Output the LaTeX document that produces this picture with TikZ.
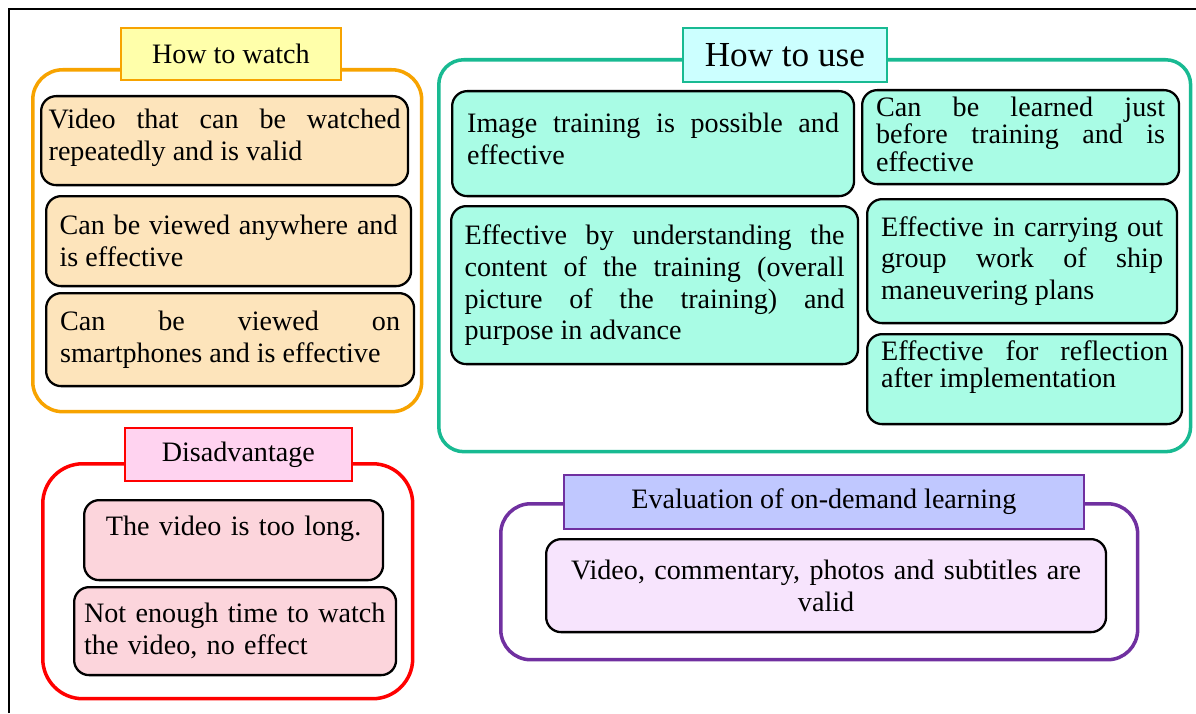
\documentclass[tikz,border=0pt]{standalone}
\usepackage{fontspec}
\setmainfont{Liberation Serif}
\usepackage{xcolor}

\definecolor{watchline}{RGB}{247,163,0}
\definecolor{watchhead}{RGB}{255,255,170}
\definecolor{watchfill}{RGB}{253,228,187}
\definecolor{useline}{RGB}{24,186,146}
\definecolor{usehead}{RGB}{204,255,255}
\definecolor{usefill}{RGB}{169,252,229}
\definecolor{disline}{RGB}{255,0,0}
\definecolor{dishead}{RGB}{255,211,240}
\definecolor{disfill}{RGB}{252,213,220}
\definecolor{evalline}{RGB}{112,48,160}
\definecolor{evalhead}{RGB}{192,200,255}
\definecolor{evalfill}{RGB}{247,228,253}

\begin{document}
\begin{tikzpicture}[
    x=0.02cm, y=-0.02cm,
    panel/.style={draw, line width=2pt, rounded corners=0.6cm, anchor=north west, inner sep=0pt},
    head/.style={draw, line width=1pt, anchor=north west, inner sep=0pt, font=\fontsize{16}{19}\selectfont},
    item/.style={draw, line width=1.3pt, rounded corners=0.3cm, anchor=north west, inner sep=0pt, align=justify, font=\fontsize{16}{18.2}\selectfont}
]
\useasboundingbox (0,0) rectangle (1196,713);
\draw[line width=1pt] (9,713) |- (1196,9);

% outer panels
\node [panel, draw=watchline, minimum width=7.78cm, minimum height=6.84cm] (watch) at (31,68) {};
\node [panel, draw=useline, rounded corners=0.5cm, minimum width=15.04cm, minimum height=7.84cm] (use) at (437,58) {};
\node [panel, draw=disline, rounded corners=0.8cm, minimum width=7.40cm, minimum height=4.70cm] (dis) at (41,462) {};
\node [panel, draw=evalline, minimum width=12.74cm, minimum height=3.12cm] (eval) at (499,502) {};

% headings
\node [head, draw=watchline, fill=watchhead, minimum width=4.40cm, minimum height=1.04cm] (watchT) at (120,27) {How to watch};
\node [head, draw=useline, fill=usehead, minimum width=4.08cm, minimum height=1.08cm, font=\fontsize{20}{24}\selectfont] (useT) at (682,27) {How to use};
\node [head, draw=disline, fill=dishead, minimum width=4.54cm, minimum height=1.06cm] (disT) at (124,427) {Disadvantage};
\node [head, draw=evalline, fill=evalhead, minimum width=10.40cm, minimum height=1.08cm] (evalT) at (563,474) {Evaluation of on-demand learning};

% how to watch
\node [item, fill=watchfill, minimum width=7.34cm, minimum height=1.78cm, text width=7.04cm, text depth=0.88cm] (w1) at (40,95) {Video that can be watched\linebreak repeatedly and is valid};
\node [item, fill=watchfill, minimum width=7.30cm, minimum height=1.80cm, text width=6.76cm] (w2) at (45,195) {Can be viewed anywhere and\linebreak is effective};
\node [item, fill=watchfill, minimum width=7.36cm, minimum height=1.86cm, text width=6.80cm] (w3) at (45,292) {Can be viewed on\linebreak smartphones and is effective};

% how to use
\node [item, fill=usefill, minimum width=8.04cm, minimum height=2.10cm, text width=7.44cm, text depth=0.84cm] (u1) at (451,90) {Image training is possible and\linebreak effective};
\node [item, fill=usefill, minimum width=8.14cm, minimum height=3.16cm, text width=7.60cm] (u2) at (450,205) {Effective by understanding the\linebreak content of the training (overall\linebreak picture of the training) and\linebreak purpose in advance};
\node [item, fill=usefill, minimum width=6.34cm, minimum height=1.88cm, text width=5.78cm, text depth=1.20cm, font=\fontsize{16}{15.4}\selectfont] (u3) at (861,89) {Can be learned just\linebreak before training and is\linebreak effective};
\node [item, fill=usefill, minimum width=6.20cm, minimum height=2.48cm, text width=5.64cm] (u4) at (866,198) {Effective in carrying out\linebreak group work of ship\linebreak maneuvering plans};
\node [item, fill=usefill, minimum width=6.30cm, minimum height=1.80cm, text width=5.74cm, text depth=1.15cm, font=\fontsize{16}{15.4}\selectfont] (u5) at (866,333) {Effective for reflection\linebreak after implementation};

% disadvantage
\node [item, fill=disfill, minimum width=5.98cm, minimum height=1.60cm, text width=5.60cm, text depth=0.56cm, align=center] (d1) at (83,499) {The video is too long.};
\node [item, fill=disfill, minimum width=6.44cm, minimum height=1.76cm, text width=6.04cm, align=left] (d2) at (73,586) {Not enough time to watch\\the video, no effect};

% evaluation
\node [item, fill=evalfill, minimum width=11.20cm, minimum height=1.86cm, text width=10.60cm, align=center] (e1) at (545,538) {Video, commentary, photos and subtitles are\\valid};
\end{tikzpicture}
\end{document}
